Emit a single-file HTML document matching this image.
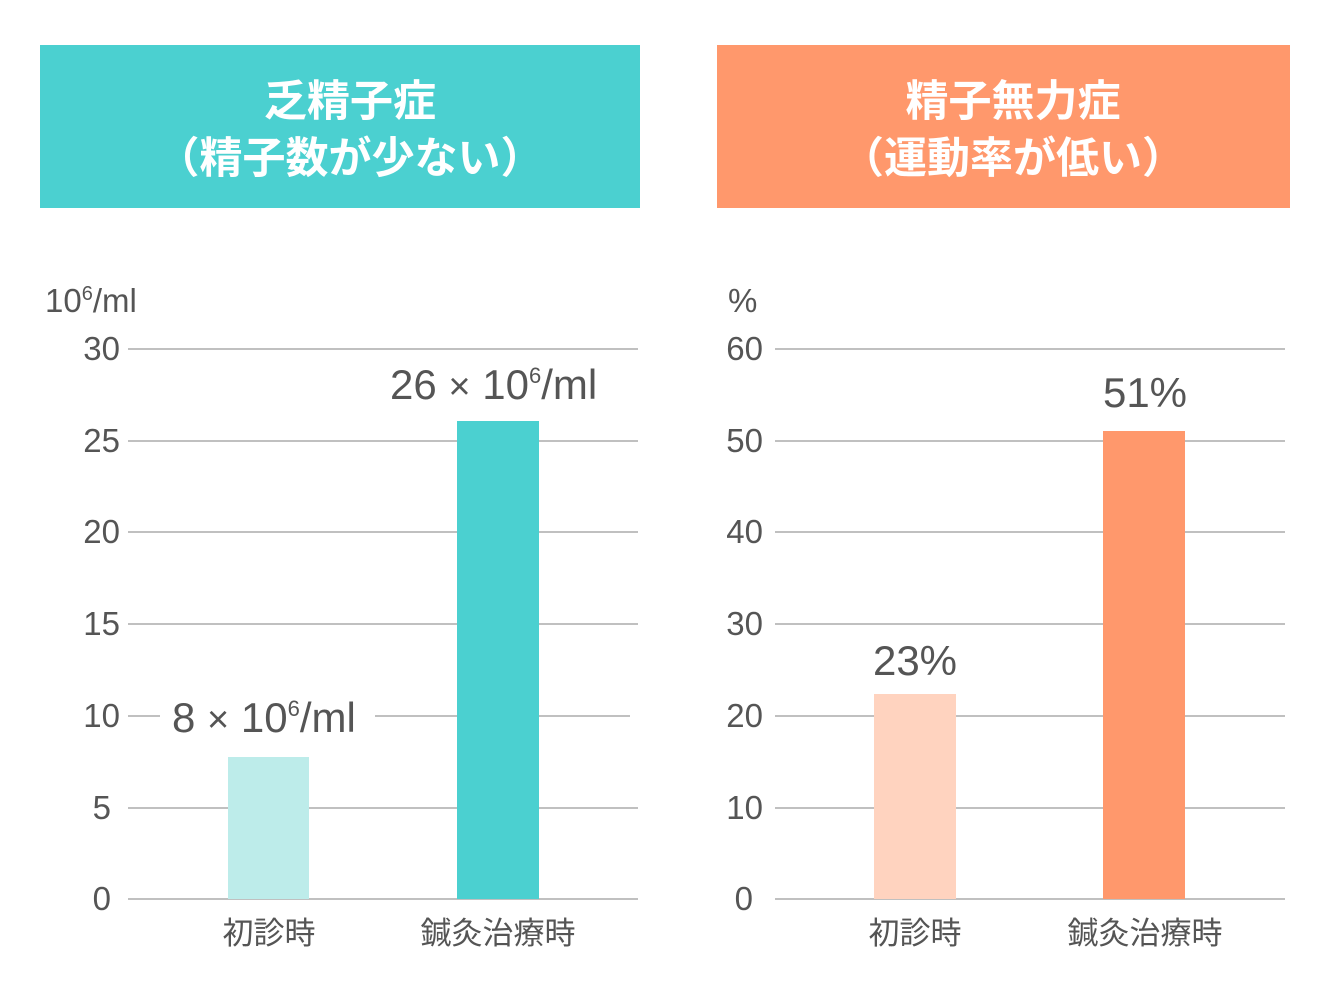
<!DOCTYPE html>
<html><head><meta charset="utf-8"><style>
body{margin:0;background:#fff;}
svg text{font-family:"Liberation Sans","Noto Sans CJK JP",sans-serif;}
</style></head><body>
<svg width="1331" height="1001" viewBox="0 0 1331 1001" xmlns="http://www.w3.org/2000/svg">
<rect x="40" y="45" width="600" height="163" fill="#4bd0d0"/>
<rect x="717" y="45" width="573" height="163" fill="#ff986c"/>
<g fill="#fff" font-size="43" font-weight="bold" text-anchor="middle">
<text x="350" y="116">乏精子症</text>
<text x="350" y="173">（精子数が少ない）</text>
<text x="1013" y="116">精子無力症</text>
<text x="1013" y="173">（運動率が低い）</text>
</g>
<g stroke="#9a9a9a" stroke-width="1.3">
<line x1="128" y1="349" x2="638" y2="349"/><line x1="128" y1="441" x2="638" y2="441"/>
<line x1="128" y1="532" x2="638" y2="532"/><line x1="128" y1="624" x2="638" y2="624"/>
<line x1="128" y1="716" x2="160" y2="716"/><line x1="375" y1="716" x2="630" y2="716"/>
<line x1="128" y1="808" x2="638" y2="808"/><line x1="128" y1="899" x2="638" y2="899"/>
<line x1="775" y1="349" x2="1285" y2="349"/><line x1="775" y1="441" x2="1285" y2="441"/>
<line x1="775" y1="532" x2="1285" y2="532"/><line x1="775" y1="624" x2="1285" y2="624"/>
<line x1="775" y1="716" x2="1285" y2="716"/><line x1="775" y1="808" x2="1285" y2="808"/>
<line x1="775" y1="899" x2="1285" y2="899"/>
</g>
<rect x="228" y="757" width="81" height="142" fill="#bdecea"/>
<rect x="457" y="421" width="82" height="478" fill="#4bd0d0"/>
<rect x="874" y="694" width="82" height="205" fill="#ffd3bf"/>
<rect x="1103" y="431" width="82" height="468" fill="#ff986c"/>
<g fill="#555" font-size="33" text-anchor="end">
<text x="120" y="360">30</text><text x="120" y="452">25</text><text x="120" y="543">20</text>
<text x="120" y="635">15</text><text x="120" y="727">10</text><text x="111" y="819">5</text><text x="111" y="910">0</text>
<text x="763" y="360">60</text><text x="763" y="452">50</text><text x="763" y="543">40</text>
<text x="763" y="635">30</text><text x="763" y="727">20</text><text x="763" y="819">10</text><text x="753" y="910">0</text>
</g>
<g fill="#555" font-size="33">
<text x="45" y="312">10<tspan font-size="20" dy="-12">6</tspan><tspan dy="12">/ml</tspan></text>
<text x="728" y="312">%</text>
</g>
<g fill="#555" font-size="31" text-anchor="middle">
<text x="269" y="944">初診時</text><text x="498" y="944">鍼灸治療時</text>
<text x="915" y="944">初診時</text><text x="1145" y="944">鍼灸治療時</text>
</g>
<g fill="#555" font-size="42">
<text x="172" y="732">8 <tspan font-size="38">×</tspan> 10<tspan font-size="22" dy="-16">6</tspan><tspan dy="16">/ml</tspan></text>
<text x="390" y="399">26 <tspan font-size="38">×</tspan> 10<tspan font-size="22" dy="-16">6</tspan><tspan dy="16">/ml</tspan></text>
<text x="915" y="675" text-anchor="middle">23%</text>
<text x="1145" y="407" text-anchor="middle">51%</text>
</g>
</svg>
</body></html>
